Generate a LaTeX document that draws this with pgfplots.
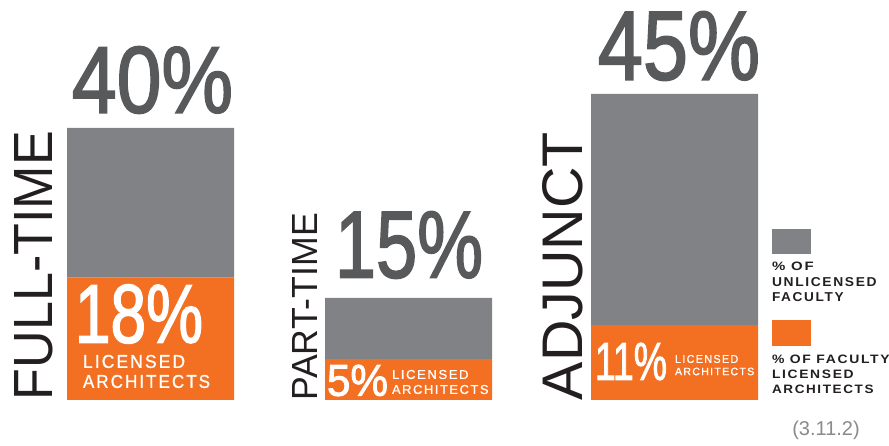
\documentclass[border=0pt]{standalone}
\usepackage{pgfplots}
\pgfplotsset{compat=1.18}
\usepackage{fontspec}
\setmainfont{Liberation Sans}
\newfontfamily\numf[FakeBold=2]{Liberation Sans}
\newfontfamily\trk[LetterSpace=12]{Liberation Sans}
\newfontfamily\trkm[LetterSpace=12,FakeBold=1]{Liberation Sans}
\usepackage{graphicx}
\definecolor{barorange}{HTML}{F36F21}
\definecolor{bargray}{HTML}{808285}
\definecolor{numgray}{HTML}{58595B}
\definecolor{labblack}{HTML}{231F20}
\definecolor{refgray}{HTML}{8A8A8A}
\newcommand{\fit}[3]{\resizebox{#1pt}{#2pt}{#3}}
\newcommand{\nb}[1]{{\numf #1}}
\newcommand{\tk}[1]{{\trkm #1\kern-0.12em}}
\newcommand{\tkb}[1]{{\trk\bfseries #1\kern-0.12em}}
\begin{document}
\begin{tikzpicture}
\begin{axis}[at={(0,0)}, anchor=south west, hide axis, scale only axis,
  width=889pt, height=446pt, xmin=0, xmax=889, ymin=-6.7647, ymax=58.8235,
  ybar stacked, bar width=167pt, clip=false]
\addplot[fill=barorange, draw=none] coordinates {(150.5,18) (408.5,6) (674.5,11)};
\addplot[fill=bargray, draw=none] coordinates {(150.5,22) (408.5,9) (674.5,34)};
\end{axis}
\begin{scope}[x=1pt,y=-1pt,yshift=446pt, every node/.style={inner sep=0pt, outer sep=0pt, anchor=center}]
% big totals
\node[text=numgray] at (152.5,80) {\fit{161}{66}{\nb{40\%}}};
\node[text=numgray] at (409,245) {\fit{148}{66}{\nb{15\%}}};
\node[text=numgray] at (679,46) {\fit{162}{68}{\nb{45\%}}};
% rotated category names
\node[text=labblack, rotate=90] at (34,265.5) {\fit{269}{38}{FULL-TIME}};
\node[text=labblack, rotate=90] at (304.5,306.5) {\fit{187}{25}{PART-TIME}};
\node[text=labblack, rotate=90] at (563,266) {\fit{268}{40}{ADJUNCT}};
% white labels
\node[text=white] at (139,314) {\fit{128}{58}{\nb{18\%}}};
\node[text=white] at (133,361.5) {\fit{100}{13}{\tk{LICENSED}}};
\node[text=white] at (145.5,381.5) {\fit{125}{13}{\tk{ARCHITECTS}}};
\node[text=white] at (357.5,380.5) {\fit{61}{31}{\nb{5\%}}};
\node[text=white] at (429.5,374.5) {\fit{75}{9}{\tk{LICENSED}}};
\node[text=white] at (439.5,389.5) {\fit{95}{9}{\tk{ARCHITECTS}}};
\node[text=white] at (631,361.5) {\fit{72}{37}{\nb{11\%}}};
\node[text=white] at (706,359) {\fit{62}{8}{\tk{LICENSED}}};
\node[text=white] at (714,371.5) {\fit{78}{7.5}{\tk{ARCHITECTS}}};
% legend
\fill[bargray] (772,229) rectangle (811,254);
\fill[barorange] (772,320) rectangle (811,346);
\node[text=labblack] at (792,266) {\fit{40}{8.5}{\tkb{\% OF}}};
\node[text=labblack] at (823.5,282.5) {\fit{103}{9}{\tkb{UNLICENSED}}};
\node[text=labblack] at (807,297.5) {\fit{70}{9}{\tkb{FACULTY}}};
\node[text=labblack] at (830,359) {\fit{116}{8.5}{\tkb{\% OF FACULTY}}};
\node[text=labblack] at (812,374) {\fit{80}{8.5}{\tkb{LICENSED}}};
\node[text=labblack] at (822,389) {\fit{100}{8.5}{\tkb{ARCHITECTS}}};
\node[text=refgray] at (826,430) {\fontsize{20}{24}\selectfont (3.11.2)};
\end{scope}
\pgfresetboundingbox
\useasboundingbox (0,0) rectangle (889pt,446pt);
\end{tikzpicture}
\end{document}
